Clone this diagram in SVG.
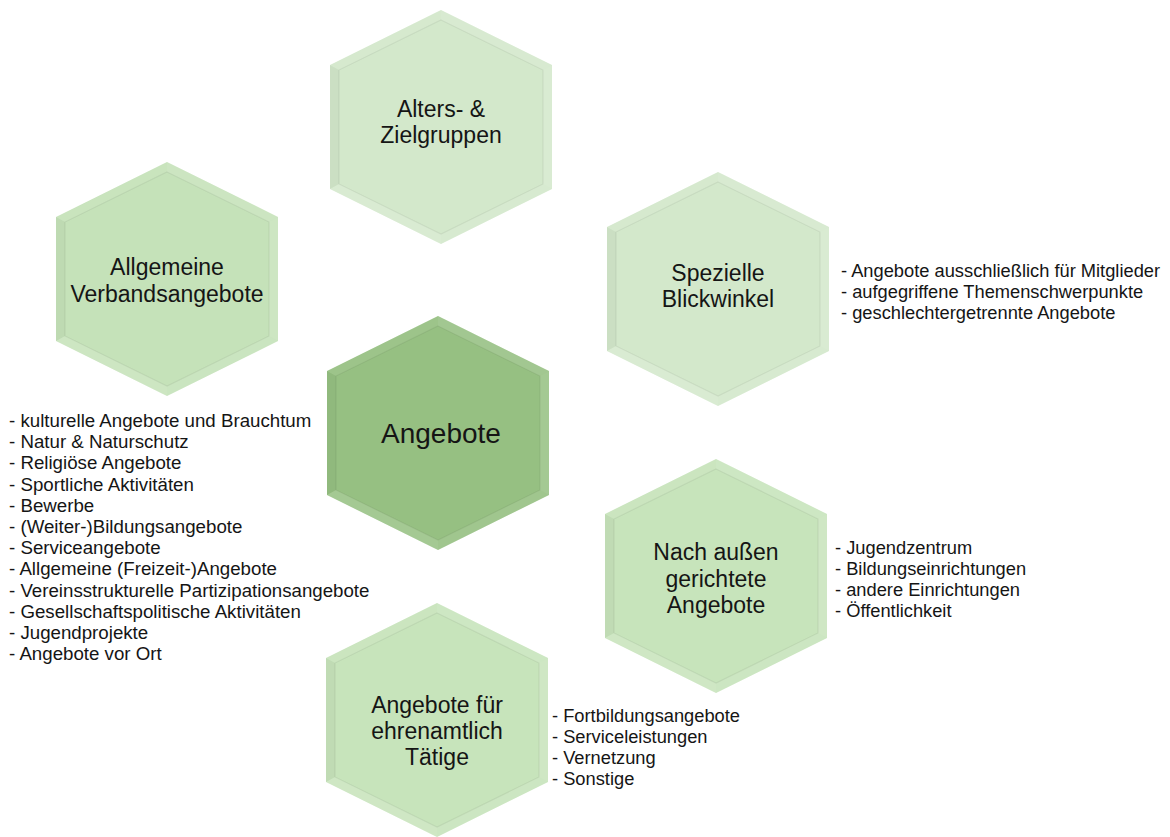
<svg xmlns="http://www.w3.org/2000/svg" xmlns:xlink="http://www.w3.org/1999/xlink" width="1170" height="837" viewBox="0 0 1170 837">
  <style>
    .lbl { font-family: "Liberation Sans", Arial, sans-serif; font-size: 23px; fill: #151515; text-anchor: middle; }
    .big { font-size: 28px; }
    .lst { font-family: "Liberation Sans", Arial, sans-serif; font-size: 18.3px; fill: #151515; }
    .lst-l { font-size: 18.7px; }
  </style>
  <defs>
    <!-- bevelled hexagon centred on 0,0; base fill inherited from the <use> -->
    <g id="hex">
      <polygon points="0,-117 111,-62 111,62 0,117 -111,62 -111,-62"/>
      <!-- facets: top-left, top-right, right, bottom-right, bottom-left, left -->
      <polygon points="-111,-62 0,-117 0,-107 -102,-57" fill="#ffffff" fill-opacity="0.07"/>
      <polygon points="0,-117 111,-62 102,-57 0,-107" fill="#ffffff" fill-opacity="0.12"/>
      <polygon points="111,-62 111,62 102,57 102,-57" fill="#ffffff" fill-opacity="0.14"/>
      <polygon points="111,62 0,117 0,107 102,57" fill="#ffffff" fill-opacity="0.10"/>
      <polygon points="0,117 -111,62 -102,57 0,107" fill="#ffffff" fill-opacity="0.14"/>
      <polygon points="-111,62 -111,-62 -102,-57 -102,57" fill="#000000" fill-opacity="0.035"/>
      <polygon points="0,-107 102,-57 102,57 0,107 -102,57 -102,-57" fill="none" stroke="#000000" stroke-opacity="0.06" stroke-width="1.2"/>
    </g>
  </defs>

  <rect width="1170" height="837" fill="#ffffff"/>

  <g id="node-alter">
    <use xlink:href="#hex" href="#hex" transform="translate(441,127)" fill="#d3e8cb"/>
    <text class="lbl" x="441" y="117">Alters- &amp;</text>
    <text class="lbl" x="441" y="143">Zielgruppen</text>
  </g>

  <g id="node-allgemein">
    <use xlink:href="#hex" href="#hex" transform="translate(167,279)" fill="#c5e2b9"/>
    <text class="lbl" x="167" y="275">Allgemeine</text>
    <text class="lbl" x="167" y="302">Verbandsangebote</text>
  </g>

  <g id="node-speziell">
    <use xlink:href="#hex" href="#hex" transform="translate(718,289)" fill="#d3e8cb"/>
    <text class="lbl" x="718" y="281">Spezielle</text>
    <text class="lbl" x="718" y="307">Blickwinkel</text>
  </g>

  <g id="node-angebote">
    <use xlink:href="#hex" href="#hex" transform="translate(438,433)" fill="#96c082"/>
    <text class="lbl big" x="441" y="443">Angebote</text>
  </g>

  <g id="node-aussen">
    <use xlink:href="#hex" href="#hex" transform="translate(716,576)" fill="#c7e4bb"/>
    <text class="lbl" x="716" y="560">Nach außen</text>
    <text class="lbl" x="716" y="587">gerichtete</text>
    <text class="lbl" x="716" y="613">Angebote</text>
  </g>

  <g id="node-ehrenamt">
    <use xlink:href="#hex" href="#hex" transform="translate(437,720)" fill="#c7e4bb"/>
    <text class="lbl" x="437" y="713">Angebote für</text>
    <text class="lbl" x="437" y="739">ehrenamtlich</text>
    <text class="lbl" x="437" y="765">Tätige</text>
  </g>

  <g id="list-allgemein">
    <text class="lst lst-l" x="9" y="427">- kulturelle Angebote und Brauchtum</text>
    <text class="lst lst-l" x="9" y="448.2">- Natur &amp; Naturschutz</text>
    <text class="lst lst-l" x="9" y="469.4">- Religiöse Angebote</text>
    <text class="lst lst-l" x="9" y="490.6">- Sportliche Aktivitäten</text>
    <text class="lst lst-l" x="9" y="511.8">- Bewerbe</text>
    <text class="lst lst-l" x="9" y="533">- (Weiter-)Bildungsangebote</text>
    <text class="lst lst-l" x="9" y="554.2">- Serviceangebote</text>
    <text class="lst lst-l" x="9" y="575.4">- Allgemeine (Freizeit-)Angebote</text>
    <text class="lst lst-l" x="9" y="596.6">- Vereinsstrukturelle Partizipationsangebote</text>
    <text class="lst lst-l" x="9" y="617.8">- Gesellschaftspolitische Aktivitäten</text>
    <text class="lst lst-l" x="9" y="639">- Jugendprojekte</text>
    <text class="lst lst-l" x="9" y="660.2">- Angebote vor Ort</text>
  </g>

  <g id="list-speziell">
    <text class="lst" x="841" y="277">- Angebote ausschließlich für Mitglieder</text>
    <text class="lst" x="841" y="298">- aufgegriffene Themenschwerpunkte</text>
    <text class="lst" x="841" y="319">- geschlechtergetrennte Angebote</text>
  </g>

  <g id="list-aussen">
    <text class="lst" x="835" y="554">- Jugendzentrum</text>
    <text class="lst" x="835" y="575">- Bildungseinrichtungen</text>
    <text class="lst" x="835" y="596">- andere Einrichtungen</text>
    <text class="lst" x="835" y="617">- Öffentlichkeit</text>
  </g>

  <g id="list-ehrenamt">
    <text class="lst" x="552" y="722">- Fortbildungsangebote</text>
    <text class="lst" x="552" y="743">- Serviceleistungen</text>
    <text class="lst" x="552" y="764">- Vernetzung</text>
    <text class="lst" x="552" y="785">- Sonstige</text>
  </g>
</svg>
